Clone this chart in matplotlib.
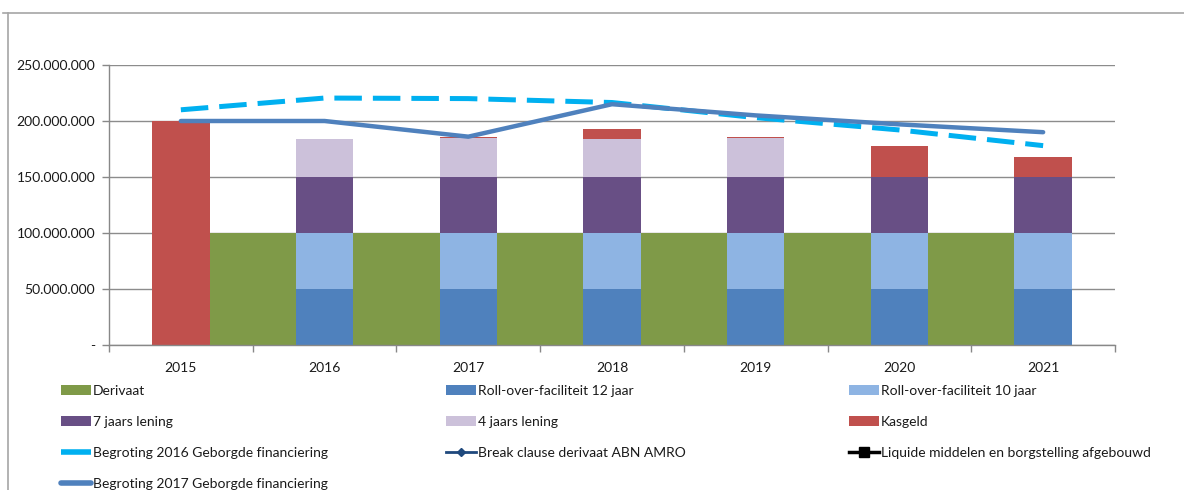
import matplotlib
matplotlib.use("Agg")
import matplotlib.pyplot as plt
import numpy as np
from matplotlib.patches import Patch
from matplotlib.lines import Line2D

plt.rcParams['font.family'] = ['Lato', 'DejaVu Sans']

years = ['2015', '2016', '2017', '2018', '2019', '2020', '2021']
derivaat = [100e6, 100e6, 100e6, 100e6, 100e6, 100e6, 100e6]
roll12 = [0, 50e6, 50e6, 50e6, 50e6, 50e6, 50e6]
roll10 = [0, 50e6, 50e6, 50e6, 50e6, 50e6, 50e6]
zeven_jaars = [0, 50e6, 50e6, 50e6, 50e6, 50e6, 50e6]
vier_jaars = [0, 34e6, 35e6, 34e6, 35e6, 0, 0]
kasgeld = [200e6, 0, 0.6e6, 9e6, 0.6e6, 28e6, 18e6]
begroting2016 = [210e6, 220.5e6, 220e6, 216.5e6, 203e6, 192e6, 178e6]
begroting2017 = [200e6, 200e6, 186e6, 215e6, 205e6, 197e6, 190e6]
yticks = [0, 50e6, 100e6, 150e6, 200e6, 250e6]
ytick_labels = ['-', '50.000.000', '100.000.000', '150.000.000', '200.000.000', '250.000.000']

c_der = '#7F9A48'
c_r12 = '#4F81BD'
c_r10 = '#8EB4E3'
c_7 = '#684F85'
c_4 = '#CCC1DA'
c_kas = '#C0504D'
c_b16 = '#00B0F0'
c_b17 = '#4F81BD'
c_break = '#1F497D'

fig = plt.figure(figsize=(11.84, 4.90), dpi=100)
W, H = 1184, 490
ax = fig.add_axes([109 / W, 1 - 345 / H, (1115 - 109) / W, (345 - 65) / H])

x = np.arange(len(years))
# Derivaat area behind the bars
ax.fill_between(x, 0, derivaat, color=c_der, linewidth=0, zorder=1)

bw = 0.40
bottom = np.zeros(len(years))
for vals, col in [(roll12, c_r12), (roll10, c_r10), (zeven_jaars, c_7),
                  (vier_jaars, c_4), (kasgeld, c_kas)]:
    v = np.array(vals, dtype=float)
    ax.bar(x, v, bw, bottom=bottom, color=col, linewidth=0, zorder=2)
    bottom += v

ax.plot(x, begroting2016, color=c_b16, linewidth=3.6, dashes=(5.5, 2.2),
        solid_capstyle='butt', zorder=3)
ax.plot(x, begroting2017, color=c_b17, linewidth=3.2, solid_capstyle='round',
        zorder=4)

ax.set_xlim(-0.5, len(years) - 0.5)
ax.set_ylim(0, 250e6)
ax.set_yticks(yticks)
ax.set_yticklabels(ytick_labels)
ax.set_xticks(x)
ax.set_xticklabels(years)
ax.set_xticks(np.arange(-0.5, len(years)), minor=True)
ax.tick_params(axis='x', which='major', length=0, pad=12, labelsize=10,
               labelcolor='#1a1a1a')
ax.tick_params(axis='x', which='minor', length=5, width=1, color='#888888',
               direction='out')
ax.tick_params(axis='y', length=5, width=1, color='#888888', pad=5,
               labelsize=10, labelcolor='#1a1a1a')
ax.yaxis.grid(True, color='#8c8c8c', linewidth=1.0, zorder=0)
ax.set_axisbelow(True)
for s in ['top', 'right']:
    ax.spines[s].set_visible(False)
for s in ['left', 'bottom']:
    ax.spines[s].set_color('#888888')
    ax.spines[s].set_linewidth(1.0)

# chart area border (top and left)
fig.add_artist(Line2D([3 / W, 1.0], [1 - 13 / H, 1 - 13 / H],
                      transform=fig.transFigure, color='#a6a6a6', linewidth=1.2))
fig.add_artist(Line2D([8 / W, 8 / W], [0, 1 - 13 / H],
                      transform=fig.transFigure, color='#a6a6a6', linewidth=1.2))

# legend in three columns
patch_kw = dict(linewidth=0)
col1 = [
    (Patch(color=c_der, **patch_kw), 'Derivaat'),
    (Patch(color=c_7, **patch_kw), '7 jaars lening'),
    (Line2D([], [], color=c_b16, linewidth=4, dashes=(6, 2.2)),
     'Begroting 2016 Geborgde financiering'),
    (Line2D([], [], color=c_b17, linewidth=4, solid_capstyle='round'),
     'Begroting 2017 Geborgde financiering'),
]
col2 = [
    (Patch(color=c_r12, **patch_kw), 'Roll-over-faciliteit 12 jaar'),
    (Patch(color=c_4, **patch_kw), '4 jaars lening'),
    (Line2D([], [], color=c_break, linewidth=2, marker='D', markersize=4),
     'Break clause derivaat ABN AMRO'),
]
col3 = [
    (Patch(color=c_r10, **patch_kw), 'Roll-over-faciliteit 10 jaar'),
    (Patch(color=c_kas, **patch_kw), 'Kasgeld'),
    (Line2D([], [], color='black', linewidth=2.5, marker='s', markersize=7),
     'Liquide middelen en borgstelling afgebouwd'),
]
for items, xl in [(col1, 57), (col2, 442), (col3, 845)]:
    h, l = zip(*items)
    leg = fig.legend(h, l, loc='upper left',
                     bbox_to_anchor=(xl / W, 1 - 381 / H),
                     frameon=False, fontsize=10, handlelength=2.15,
                     handleheight=0.7, handletextpad=0.15,
                     labelspacing=1.36, borderaxespad=0, borderpad=0.3)
    for t in leg.get_texts():
        t.set_color('#1a1a1a')

fig.savefig('out.png', dpi=100)
